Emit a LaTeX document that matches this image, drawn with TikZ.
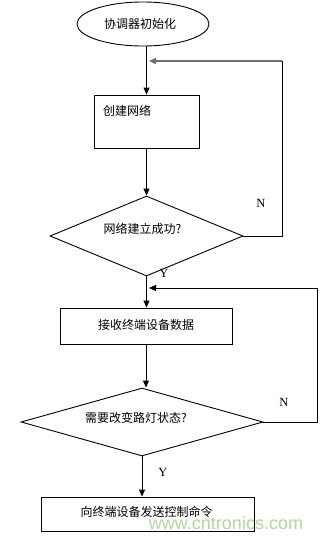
\documentclass[tikz,border=0pt]{standalone}
\usepackage{fontspec}
\newfontfamily\cjk{Noto Sans CJK SC}
\setmainfont{Liberation Serif}
\newfontfamily\wmfont{Liberation Sans}
\usetikzlibrary{shapes.geometric,arrows.meta}
\definecolor{wmgreen}{RGB}{178,214,158}
\definecolor{fbgray}{RGB}{110,110,110}
\begin{document}
\begin{tikzpicture}[x=1pt,y=-1pt,
  line width=0.9pt,
  txt/.style={font=\cjk\fontsize{12}{14}\selectfont, inner sep=0pt},
  lbl/.style={font=\fontsize{12.5}{14}\selectfont, inner sep=0pt},
  procbox/.style={draw, rectangle, inner sep=0pt},
  decide/.style={draw, diamond, inner sep=0pt},
  arr/.style={-{Triangle[length=7pt,width=6pt]}}
]
\useasboundingbox (0,0) rectangle (324,541);
\fill[white] (0,0) rectangle (324,541);

% start
\node[draw, ellipse, minimum width=132pt, minimum height=44pt, inner sep=0pt] (start) at (143,24) {};
\node[txt] (tstart) at (140,24) {协调器初始化};

% box1
\node[procbox, minimum width=105pt, minimum height=53pt] (box1) at (146.5,121.5) {};
\node[txt] (tbox1) at (127,111) {创建网络};

% diamond1
\node[decide, minimum width=193pt, minimum height=80pt] (dia1) at (146.5,236) {};
\node[txt] (tdia1) at (142.5,229) {网络建立成功?};

% box2
\node[procbox, minimum width=172pt, minimum height=36pt] (box2) at (146,326) {};
\node[txt] (tbox2) at (146,325) {接收终端设备数据};

% diamond2
\node[decide, minimum width=242pt, minimum height=68pt] (dia2) at (142,422) {};
\node[txt] (tdia2) at (136,418) {需要改变路灯状态?};

% box3
\node[procbox, minimum width=213pt, minimum height=34pt] (box3) at (147.5,514) {};
\node[txt] (tbox3) at (146.5,512) {向终端设备发送控制命令};

% watermark
\node[font=\wmfont\fontsize{18}{20}\selectfont, text=wmgreen, inner sep=0pt] (wm) at (226,523) {www.cntronics.com};

% labels
\node[lbl] (n1) at (261,203) {N};
\node[lbl] (y1) at (164,273) {Y};
\node[lbl] (n2) at (284,402) {N};
\node[lbl] (y2) at (163,472) {Y};

% coordinates
\coordinate (c1) at (282,236);
\coordinate (c1t) at (282,61);
\coordinate (m1) at (149,61);
\coordinate (c2) at (317,422);
\coordinate (c2t) at (317,288);
\coordinate (m2) at (149,288);

% connectors
\draw[arr] (start.south -| box1.north) -- (box1.north);
\draw[arr] (box1.south) -- (dia1.north);
\draw[arr] (dia1.south) -- (box2.north -| dia1.south);
\draw[arr] (box2.south) -- (box2.south |- dia2.north);
\draw[arr] (dia2.south) -- (box3.north -| dia2.south);
\draw (dia1.east) -- (c1) -- (c1t);
\draw[arr, fbgray, line width=1.4pt] (c1t) -- (m1);
\draw[arr] (dia2.east) -- (c2) -- (c2t) -- (m2);
\end{tikzpicture}
\end{document}
